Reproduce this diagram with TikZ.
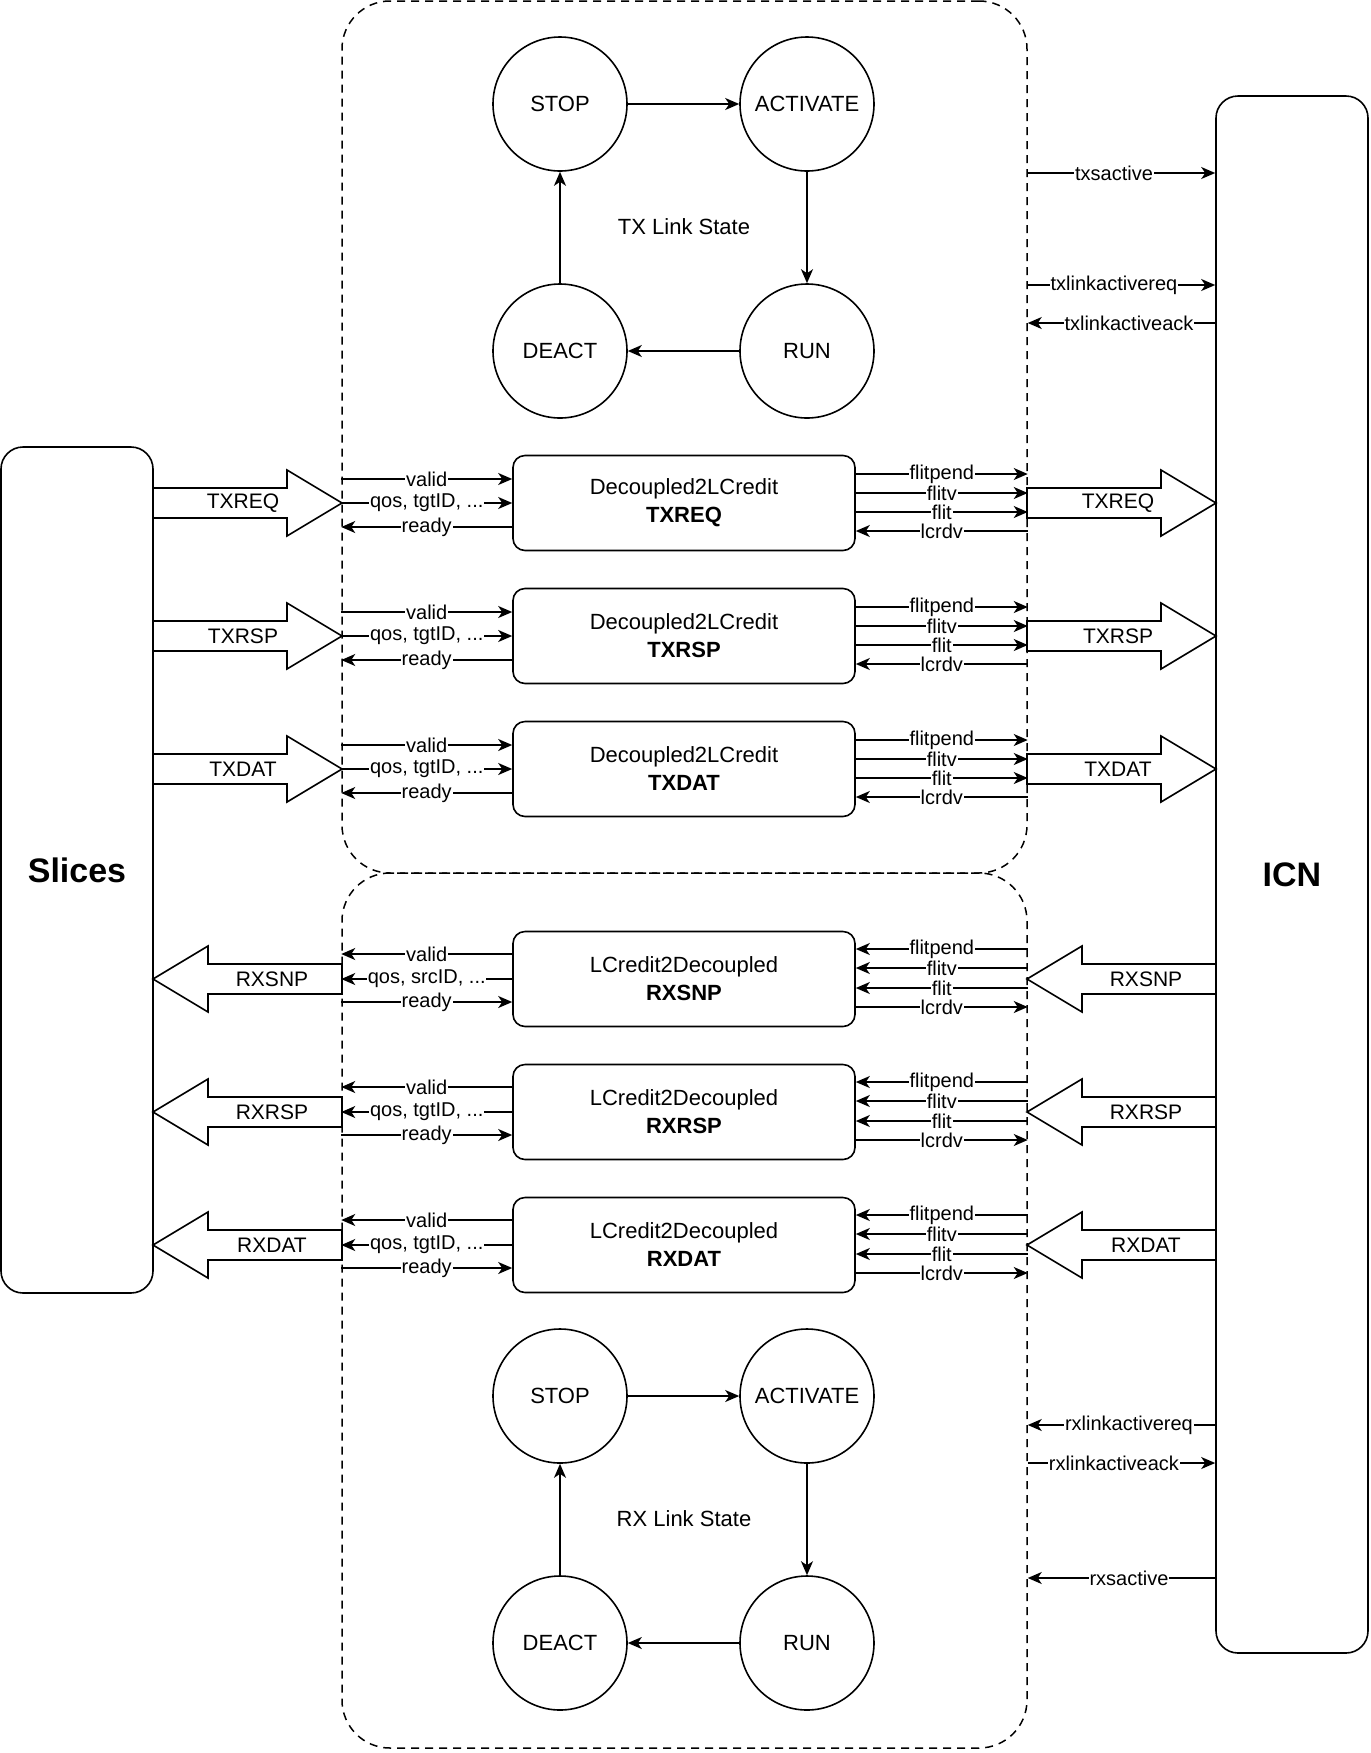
\documentclass[tikz,border=0pt]{standalone}
\usepackage{fontspec}
\setmainfont{Liberation Sans}
\usetikzlibrary{arrows.meta,calc}

% Hollow block arrow: tail x, tip x, centre y, label, label x, label node name
\newcommand{\hollowarrow}[6]{%
  \pgfmathsetmacro{\hb}{#2-55*sign(#2-#1)}%
  \draw[fat] (#1,#3-15) -- (\hb,#3-15) -- (\hb,#3-33) -- (#2,#3)
    -- (\hb,#3+33) -- (\hb,#3+15) -- (#1,#3+15) -- cycle;
  \node[fatlab] (#6) at (#5,#3) {#4};
}

\begin{document}
\begin{tikzpicture}[x=0.5pt,y=-0.5pt,
  line width=0.8pt,
  >={Stealth[length=7pt,width=6pt,inset=2pt]},
  part/.style={draw,dash pattern=on 4pt off 3pt,line width=0.75pt,
    rounded corners=24pt,minimum width=342.5pt,inner sep=0pt},
  endpoint/.style={draw,rounded corners=11pt,minimum width=76pt,
    font=\fontsize{17}{20}\selectfont\bfseries},
  state/.style={draw,circle,minimum size=67pt,inner sep=0pt,
    font=\fontsize{11}{13}\selectfont},
  dbox/.style={draw,rounded corners=6pt,minimum width=171pt,minimum height=47.5pt,
    align=center,font=\fontsize{11}{14}\selectfont},
  sig/.style={midway,fill=white,inner sep=0.4pt,font=\fontsize{10}{12}\selectfont},
  side/.style={pos=0.46,fill=white,inner sep=0.4pt,font=\fontsize{10}{12}\selectfont},
  fat/.style={draw,fill=white,line width=0.8pt,line join=miter},
  fatlab/.style={inner sep=0pt,font=\fontsize{10.5}{12}\selectfont},
  caption/.style={font=\fontsize{11}{13}\selectfont}
]
\useasboundingbox (0,0) rectangle (1371,1753);

% Dashed partitions for the TX and RX halves
\node[part,minimum height=436pt] (txpart) at (684.5,437) {};
\node[part,minimum height=437.5pt] (rxpart) at (684.5,1310.5) {};

% End points
\node[endpoint,minimum height=423pt] (slices) at (77,870) {Slices};
\node[endpoint,minimum height=778.5pt] (icn) at (1292,874.5) {ICN};

% TX link state machine
\node[state] (txstop) at (560,104) {STOP};
\node[state] (txact) at (807,104) {ACTIVATE};
\node[state] (txrun) at (807,351) {RUN};
\node[state] (txdeact) at (560,351) {DEACT};
\draw[->] (txstop) -- (txact);
\draw[->] (txact) -- (txrun);
\draw[->] (txrun) -- (txdeact);
\draw[->] (txdeact) -- (txstop);
\node[caption] (txlbl) at (684,227) {TX Link State};

% RX link state machine
\node[state] (rxstop) at (560,1396) {STOP};
\node[state] (rxact) at (807,1396) {ACTIVATE};
\node[state] (rxrun) at (807,1643) {RUN};
\node[state] (rxdeact) at (560,1643) {DEACT};
\draw[->] (rxstop) -- (rxact);
\draw[->] (rxact) -- (rxrun);
\draw[->] (rxrun) -- (rxdeact);
\draw[->] (rxdeact) -- (rxstop);
\node[caption] (rxlbl) at (684,1519) {RX Link State};

% Link activation handshakes with the ICN
\draw[->] (txpart.east |- 0,173) -- (icn.west |- 0,173) node[side] (l-txs) {txsactive};
\draw[->] (txpart.east |- 0,285) -- (icn.west |- 0,285) node[side] (l-txreq) {txlinkactivereq};
\draw[->] (icn.west |- 0,323) -- (txpart.east |- 0,323) node[side] (l-txack) {txlinkactiveack};
\draw[->] (icn.west |- 0,1425) -- (rxpart.east |- 0,1425) node[side] (l-rxreq) {rxlinkactivereq};
\draw[->] (rxpart.east |- 0,1463) -- (icn.west |- 0,1463) node[side] (l-rxack) {rxlinkactiveack};
\draw[->] (icn.west |- 0,1578) -- (rxpart.east |- 0,1578) node[side] (l-rxs) {rxsactive};

% TX channels: decoupled interface to L-credit flits
\foreach \n/\yc/\lab in {txreq/503/TXREQ, txrsp/636/TXRSP, txdat/769/TXDAT} {
  \node[dbox] (\n) at (684,\yc) {Decoupled2LCredit\\\textbf{\lab}};
  \coordinate (\n-a) at ([yshift=12pt]\n.west);
  \coordinate (\n-b) at (\n.west);
  \coordinate (\n-c) at ([yshift=-12pt]\n.west);
  \coordinate (\n-p) at ([yshift=14.5pt]\n.east);
  \coordinate (\n-q) at ([yshift=5pt]\n.east);
  \coordinate (\n-r) at ([yshift=-4.5pt]\n.east);
  \coordinate (\n-s) at ([yshift=-14pt]\n.east);
  \draw[->] (txpart.west |- \n-a) -- (\n-a) node[sig] (\n-valid) {valid};
  \draw[->] (txpart.west |- \n-b) -- (\n-b) node[sig] (\n-qos) {qos, tgtID, ...};
  \draw[->] (\n-c) -- (txpart.west |- \n-c) node[sig] (\n-ready) {ready};
  \draw[->] (\n-p) -- (txpart.east |- \n-p) node[sig] (\n-flitpend) {flitpend};
  \draw[->] (\n-q) -- (txpart.east |- \n-q) node[sig] (\n-flitv) {flitv};
  \draw[->] (\n-r) -- (txpart.east |- \n-r) node[sig] (\n-flit) {flit};
  \draw[->] (txpart.east |- \n-s) -- (\n-s) node[sig] (\n-lcrdv) {lcrdv};
  \hollowarrow{153}{342}{\yc}{\lab}{243}{\n-L}
  \hollowarrow{1027}{1216}{\yc}{\lab}{1118}{\n-R}
}

% RX channels: L-credit flits to decoupled interface
\foreach \n/\yc/\lab/\fld in {rxsnp/979/RXSNP/srcID, rxrsp/1112/RXRSP/tgtID, rxdat/1245/RXDAT/tgtID} {
  \node[dbox] (\n) at (684,\yc) {LCredit2Decoupled\\\textbf{\lab}};
  \coordinate (\n-a) at ([yshift=12.5pt]\n.west);
  \coordinate (\n-b) at (\n.west);
  \coordinate (\n-c) at ([yshift=-11.5pt]\n.west);
  \coordinate (\n-p) at ([yshift=15pt]\n.east);
  \coordinate (\n-q) at ([yshift=5.5pt]\n.east);
  \coordinate (\n-r) at ([yshift=-4.5pt]\n.east);
  \coordinate (\n-s) at ([yshift=-14pt]\n.east);
  \draw[->] (\n-a) -- (rxpart.west |- \n-a) node[sig] (\n-valid) {valid};
  \draw[->] (\n-b) -- (rxpart.west |- \n-b) node[sig] (\n-qos) {qos, \fld, ...};
  \draw[->] (rxpart.west |- \n-c) -- (\n-c) node[sig] (\n-ready) {ready};
  \draw[->] (rxpart.east |- \n-p) -- (\n-p) node[sig] (\n-flitpend) {flitpend};
  \draw[->] (rxpart.east |- \n-q) -- (\n-q) node[sig] (\n-flitv) {flitv};
  \draw[->] (rxpart.east |- \n-r) -- (\n-r) node[sig] (\n-flit) {flit};
  \draw[->] (\n-s) -- (rxpart.east |- \n-s) node[sig] (\n-lcrdv) {lcrdv};
  \hollowarrow{342}{153}{\yc}{\lab}{272}{\n-L}
  \hollowarrow{1216}{1027}{\yc}{\lab}{1146}{\n-R}
}
\end{tikzpicture}
\end{document}
